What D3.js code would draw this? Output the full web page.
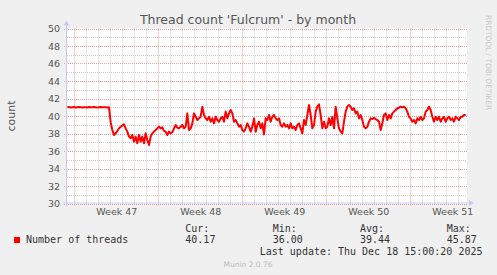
<!DOCTYPE html>
<html>
<head>
<meta charset="utf-8">
<script src="https://cdn.jsdelivr.net/npm/d3@7"></script>
<style>
  body { margin: 0; background: #f0f0f0; }
  svg { display: block; }
</style>
</head>
<body>
<div id="chart"></div>
<script>
// samples: one every 200 minutes (rrd step), first one at sampleStart
const sampleStart = Date.UTC(2025, 10, 16, 10, 4);
const sampleStepMin = 200;
const threadValues = [
  41.0, 41.02, 40.98, 41.0, 41.03, 40.97, 41.0, 41.02, 41.0, 40.98,
  41.01, 41.0, 40.97, 41.02, 41.0, 40.99, 41.03, 41.0, 40.98, 41.0,
  41.02, 40.99, 41.0, 41.01, 40.98, 41.0,
  39.3, 38.4, 37.83, 38.02, 38.29, 38.59, 38.78, 38.9, 39.05, 38.59,
  38.21, 37.64, 37.45, 37.83, 37.07, 37.64, 36.88, 37.83, 37.07, 37.64,
  36.88, 38.02, 37.26, 36.69, 37.64, 38.02, 38.21, 38.4, 38.59, 38.78,
  38.59, 38.7, 38.3,
  38.21, 37.83, 38.21, 38.02, 38.14, 38.59, 38.97, 38.67, 38.59, 38.78,
  38.97, 38.59, 38.78, 40.30, 38.40, 38.59, 39.16, 40.30, 39.92, 39.54,
  39.73, 39.92, 41.07, 40.11, 39.73, 39.54, 39.92, 39.35, 39.73, 39.16,
  39.92, 39.54, 39.35, 39.73, 39.92, 39.35, 40.50, 39.73, 40.30, 40.69,
  40.30, 39.35, 39.54, 39.16, 38.78, 38.97, 38.40, 38.21, 38.59, 39.16,
  38.78, 38.21, 38.78, 39.73, 38.21, 38.97, 39.35, 38.59, 39.16, 37.90,
  39.73, 39.54, 40.11, 39.35, 39.92, 40.11, 39.73, 39.54, 39.73, 38.97,
  38.78, 39.16, 38.78, 38.97, 38.59, 39.16, 38.59, 38.78, 38.40, 38.97,
  39.16, 38.59, 38.02, 39.54, 38.97, 40.11, 41.26, 40.11, 38.59, 38.97,
  40.50, 41.07, 41.33, 40.11, 38.59, 39.35, 38.59, 38.78, 39.73, 38.97,
  39.92, 38.59, 41.07, 39.73, 38.59, 38.21, 38.02, 39.35, 40.50, 41.07,
  41.26, 41.07, 40.69, 40.88, 40.30, 40.50, 39.73, 40.11, 39.54, 38.78,
  38.59, 38.78, 39.35, 39.73, 39.65, 39.80, 39.65, 39.54, 39.35, 38.40,
  39.16, 40.11, 40.30, 39.54, 40.11, 39.73, 40.30, 40.50, 40.69, 40.88,
  40.95, 41.07, 40.99, 41.07, 40.88, 40.50, 39.92, 39.73, 39.35, 39.54,
  39.16, 39.73, 39.54, 39.92, 39.54, 39.73, 40.50, 40.69, 41.07, 40.69,
  39.92, 39.35, 39.92, 39.54, 39.92, 39.35, 39.73, 39.92, 39.35, 39.73,
  39.92, 39.54, 39.73, 39.35, 39.92, 39.73, 39.54, 39.92, 39.92, 40.11,
  40.11
];
const yTicks = [30, 32, 34, 36, 38, 40, 42, 44, 46, 48, 50];
const legendHeaders = ["Cur:", "Min:", "Avg:", "Max:"];
const legendValues = ["40.17", "36.00", "39.44", "45.87"];
const seriesName = "Number of threads";
const titleText = "Thread count 'Fulcrum' - by month";
const lastUpdate = "Last update: Thu Dec 18 15:00:20 2025";

const data = threadValues.map((v, i) => ({
  t: new Date(sampleStart + i * sampleStepMin * 60000),
  v: v
}));

const W = 497, H = 275;
const plot = { left: 67, right: 467, top: 28.5, bottom: 203.5 };

let svg = d3.select("#chart").append("svg")
  .attr("width", W)
  .attr("height", H);

svg.append("rect").attr("width", W).attr("height", H).attr("fill", "#f0f0f0");

let x = d3.scaleUtc()
  .domain([new Date(Date.UTC(2025, 10, 16, 9, 24)), new Date(Date.UTC(2025, 11, 19, 17, 24))])
  .range([plot.left, plot.right]);
let y = d3.scaleLinear()
  .domain([30, 50])
  .range([plot.bottom, plot.top]);

// canvas
svg.append("rect")
  .attr("x", plot.left)
  .attr("y", plot.top - 0.5)
  .attr("width", plot.right - plot.left)
  .attr("height", plot.bottom - plot.top + 0.5)
  .attr("fill", "#ffffff");

// minor grid
let grid = svg.append("g");
let days = d3.utcDay.range(x.domain()[0], x.domain()[1]);
grid.selectAll(".vminor")
  .data(days.filter(d => d.getUTCDay() !== 1))
  .enter().append("line")
  .attr("x1", d => Math.round(x(d)) + 0.5)
  .attr("x2", d => Math.round(x(d)) + 0.5)
  .attr("y1", plot.top)
  .attr("y2", plot.bottom)
  .attr("stroke", "#cfcfcf")
  .attr("stroke-dasharray", "1,1");
grid.selectAll(".hminor")
  .data(d3.range(31, 50, 2))
  .enter().append("line")
  .attr("x1", plot.left)
  .attr("x2", plot.right)
  .attr("y1", d => Math.round(y(d)) + 0.5)
  .attr("y2", d => Math.round(y(d)) + 0.5)
  .attr("stroke", "#cfcfcf")
  .attr("stroke-dasharray", "1,1");

// major grid
let mondays = d3.utcMonday.range(x.domain()[0], x.domain()[1]);
grid.selectAll(".vmajor")
  .data(mondays)
  .enter().append("line")
  .attr("x1", d => Math.round(x(d)) + 0.5)
  .attr("x2", d => Math.round(x(d)) + 0.5)
  .attr("y1", plot.top)
  .attr("y2", plot.bottom + 3)
  .attr("stroke", "#f0a0a0")
  .attr("stroke-dasharray", "1,1");
grid.selectAll(".hmajor")
  .data(yTicks)
  .enter().append("line")
  .attr("x1", plot.left - 3)
  .attr("x2", plot.right)
  .attr("y1", d => Math.round(y(d)) + 0.5)
  .attr("y2", d => Math.round(y(d)) + 0.5)
  .attr("stroke", "#f0a0a0")
  .attr("stroke-dasharray", "1,1");

// data line
let line = d3.line()
  .x(d => x(d.t))
  .y(d => y(d.v));
svg.append("path")
  .datum(data)
  .attr("d", line)
  .attr("fill", "none")
  .attr("stroke", "#ff0000")
  .attr("stroke-width", 2)
  .attr("stroke-linejoin", "round");

// axis lines with arrows
let axisColor = "#c8c8f0";
svg.append("line")
  .attr("x1", plot.left - 0.5).attr("x2", plot.left - 0.5)
  .attr("y1", plot.bottom + 3).attr("y2", plot.top - 4)
  .attr("stroke", axisColor);
svg.append("path")
  .attr("d", `M${plot.left - 3.5},${plot.top - 3} L${plot.left - 0.5},${plot.top - 8} L${plot.left + 2.5},${plot.top - 3} Z`)
  .attr("fill", axisColor);
svg.append("line")
  .attr("x1", plot.left - 4).attr("x2", plot.right + 3)
  .attr("y1", plot.bottom - 0.5).attr("y2", plot.bottom - 0.5)
  .attr("stroke", axisColor);
svg.append("path")
  .attr("d", `M${plot.right + 2},${plot.bottom - 3.5} L${plot.right + 7},${plot.bottom - 0.5} L${plot.right + 2},${plot.bottom + 2.5} Z`)
  .attr("fill", axisColor);

// axes labels
let yAxis = d3.axisLeft(y)
  .tickValues(yTicks)
  .tickSize(0)
  .tickPadding(7);
let yG = svg.append("g")
  .attr("transform", `translate(${plot.left},0)`)
  .call(yAxis);
yG.select(".domain").remove();
yG.selectAll("text")
  .attr("fill", "#555")
  .style("font-family", "DejaVu Sans")
  .style("font-size", "9.5px");

let weekMids = mondays.map(d => d3.utcHour.offset(d, 84));
let xAxis = d3.axisBottom(x)
  .tickValues(weekMids)
  .tickSize(0)
  .tickPadding(5)
  .tickFormat(d => "Week " + d3.utcFormat("%V")(d));
let xG = svg.append("g")
  .attr("transform", `translate(0,${plot.bottom})`)
  .call(xAxis);
xG.select(".domain").remove();
xG.selectAll("text")
  .attr("fill", "#555")
  .style("font-family", "DejaVu Sans")
  .style("font-size", "9.5px");

// title
svg.append("text")
  .attr("x", 248)
  .attr("y", 23.5)
  .attr("text-anchor", "middle")
  .attr("fill", "#555")
  .style("font-family", "DejaVu Sans")
  .style("font-size", "12.5px")
  .text(titleText);

// y label
svg.append("text")
  .attr("transform", `translate(15,116) rotate(-90)`)
  .attr("text-anchor", "middle")
  .attr("fill", "#555")
  .style("font-family", "DejaVu Sans")
  .style("font-size", "11px")
  .text("count");

// watermark right
svg.append("text")
  .attr("transform", `translate(485.5,15) rotate(90)`)
  .attr("fill", "#c8c8c8")
  .style("font-family", "DejaVu Sans")
  .style("font-size", "7.4px")
  .text("RRDTOOL / TOBI OETIKER");

// legend
let legend = svg.append("g")
  .style("font-family", "DejaVu Sans Mono")
  .style("font-size", "10px")
  .attr("fill", "#333");
legend.append("rect")
  .attr("x", 14).attr("y", 237)
  .attr("width", 6).attr("height", 6)
  .attr("fill", "#ff0000");
legend.append("text").attr("x", 26).attr("y", 242.5).text(seriesName);
let colX = [185.3, 272.7, 360, 446.7];
legend.selectAll(".hdr")
  .data(legendHeaders)
  .enter().append("text")
  .attr("x", (d, i) => colX[i])
  .attr("y", 231.5)
  .text(d => d);
legend.selectAll(".val")
  .data(legendValues)
  .enter().append("text")
  .attr("x", (d, i) => colX[i])
  .attr("y", 242.5)
  .text(d => d);
legend.append("text")
  .attr("x", 482.5)
  .attr("y", 254.5)
  .attr("text-anchor", "end")
  .text(lastUpdate);

svg.append("text")
  .attr("x", 248)
  .attr("y", 266.5)
  .attr("text-anchor", "middle")
  .attr("fill", "#bbb")
  .style("font-family", "DejaVu Sans")
  .style("font-size", "7.5px")
  .text("Munin 2.0.76");
</script>
</body>
</html>
